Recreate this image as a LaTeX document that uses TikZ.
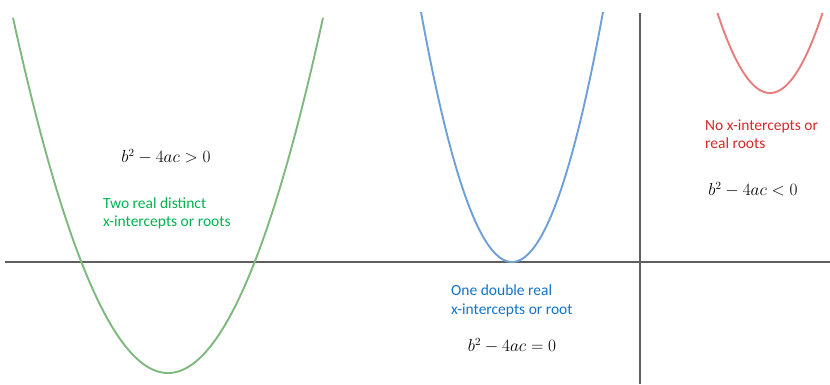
\documentclass[tikz,border=0pt]{standalone}
\usepackage{fontspec}
\setmainfont{Carlito}
\definecolor{axisgray}{RGB}{95,95,95}
\definecolor{gcurve}{RGB}{125,185,125}
\definecolor{gtext}{RGB}{0,180,80}
\definecolor{bcurve}{RGB}{110,160,215}
\definecolor{btext}{RGB}{20,115,200}
\definecolor{rcurve}{RGB}{230,125,125}
\definecolor{rtext}{RGB}{215,40,40}
\tikzset{
  axisline/.style={draw=axisgray,line width=1.4pt},
  curve/.style={line width=1.9pt,smooth,samples=120},
  label/.style={inner sep=0pt,anchor=west,align=left,font=\fontsize{15.5}{18.5}\selectfont},
  eqn/.style={inner sep=0pt,font=\fontsize{16}{18}\selectfont}
}
\begin{document}
\begin{tikzpicture}[x=1pt,y=-1pt]
\useasboundingbox (0,0) rectangle (830,384);
% axes
\draw[axisline] (5,262) -- (830,262);
\draw[axisline] (640,13) -- (640,384);
% parabolas
\draw[gcurve,curve,domain=13:323] plot (\x,{373-0.01479*(\x-168)*(\x-168)});
\draw[bcurve,curve,domain=421:603] plot (\x,{262-0.0302*(\x-512)*(\x-512)});
\draw[rcurve,curve,domain=717.5:822.5] plot (\x,{93-0.029*(\x-770)*(\x-770)});
% texts
\node[eqn] (eq1) at (166,157) {$b^2-4ac>0$};
\node[label,text=gtext] (t1) at (103,213.5) {Two real distinct\\x-intercepts or roots};
\node[label,text=btext] (t2) at (451,301) {One double real\\x-intercepts or root};
\node[eqn] (eq2) at (512,346) {$b^2-4ac=0$};
\node[label,text=rtext] (t3) at (705,134) {No x-intercepts or\\real roots};
\node[eqn] (eq3) at (753,190) {$b^2-4ac<0$};
\end{tikzpicture}
\end{document}
